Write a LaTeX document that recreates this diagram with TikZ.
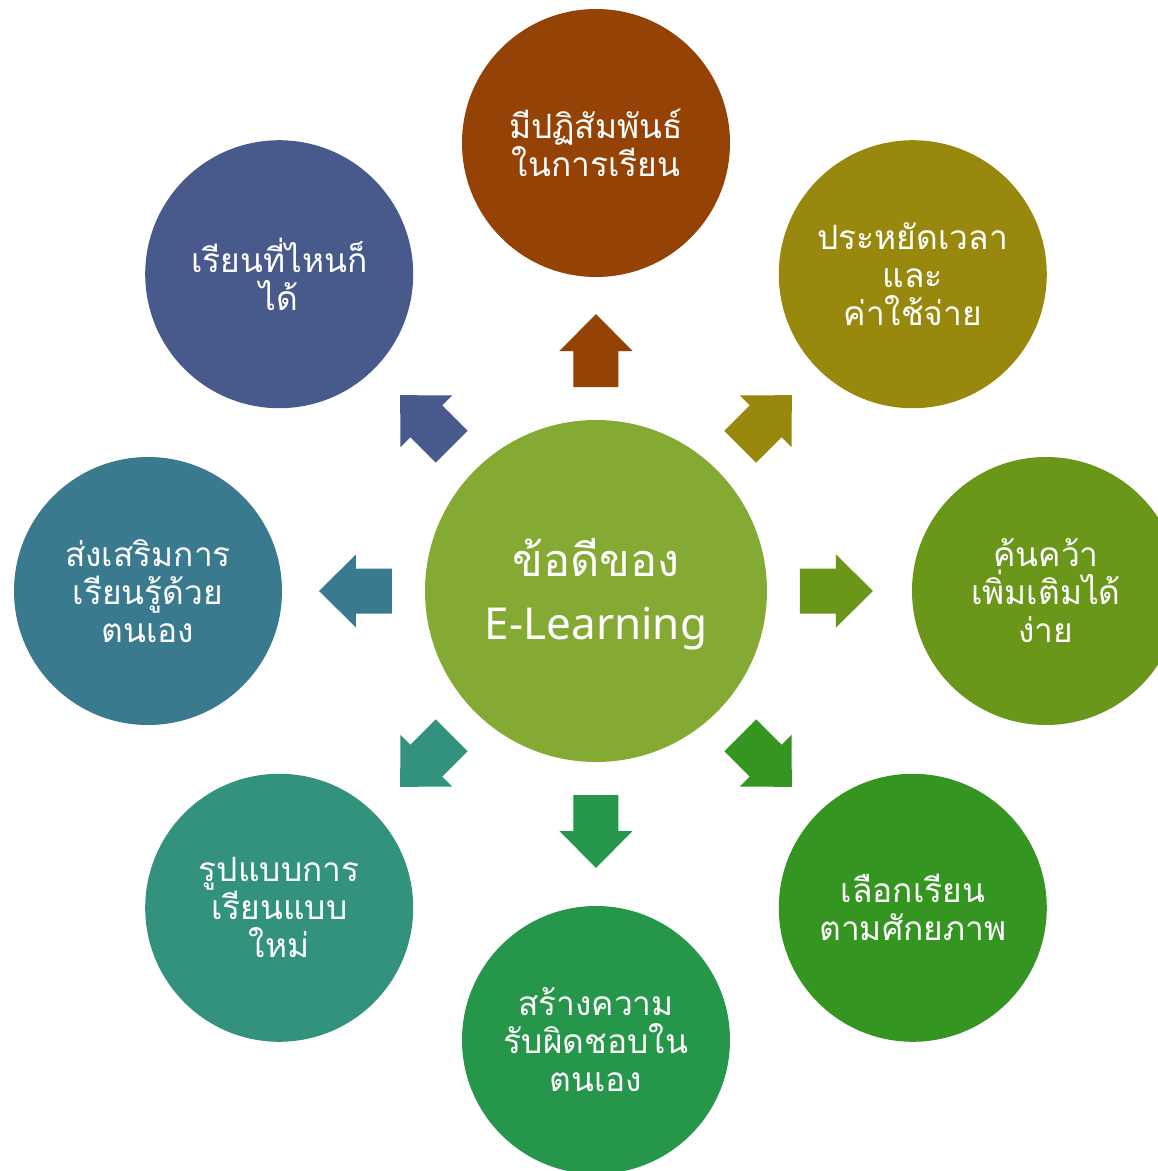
\documentclass[tikz,border=0pt]{standalone}
\usepackage{fontspec}
\newfontfamily\thaifont[Script=Thai]{Loma}
\newfontfamily\latinfont{Noto Sans}
\begin{document}
\begin{tikzpicture}[x=1pt,y=1pt,
  petal/.style={circle,minimum size=268pt,inner sep=0pt,fill=#1,text=white,
    align=center,font=\thaifont\fontsize{33.5}{38}\selectfont},
  hub/.style={circle,minimum size=342pt,inner sep=0pt,fill=#1,text=white,align=center}]
\definecolor{cTop}{RGB}{149,66,6}
\definecolor{cTR}{RGB}{152,137,14}
\definecolor{cR}{RGB}{106,150,26}
\definecolor{cBR}{RGB}{52,149,32}
\definecolor{cB}{RGB}{38,150,74}
\definecolor{cBL}{RGB}{50,146,126}
\definecolor{cL}{RGB}{58,122,142}
\definecolor{cTL}{RGB}{72,90,140}
\definecolor{cHub}{RGB}{132,170,52}
\useasboundingbox (-596,-580) rectangle (562,591);
\clip (-596,-580) rectangle (562,591);

% centre
\node[hub=cHub] (hub) at (0,0) {};
\node[text=white] (hubA) at (0,33) {\thaifont\fontsize{45}{48}\selectfont ข้อดีของ};
\node[text=white] (hubB) at (0,-38) {\latinfont\fontsize{44}{48}\selectfont E-Learning};

% surrounding benefits
\node[petal=cTop] (top) at (90:448) {มีปฏิสัมพันธ์\\ในการเรียน};
\node[petal=cTR] (tr) at (45:448) {ประหยัดเวลา\\และ\\ค่าใช้จ่าย};
\node[petal=cR] (right) at (0:450) {ค้นคว้า\\เพิ่มเติมได้\\ง่าย};
\node[petal=cBR] (br) at (-45:448) {เลือกเรียน\\ตามศักยภาพ};
\node[petal=cB] (bottom) at (-90:449) {สร้างความ\\รับผิดชอบใน\\ตนเอง};
\node[petal=cBL] (bl) at (-135:448) {รูปแบบการ\\เรียนแบบ\\ใหม่};
\node[petal=cL] (left) at (180:448) {ส่งเสริมการ\\เรียนรู้ด้วย\\ตนเอง};
\node[petal=cTL] (tl) at (135:448) {เรียนที่ไหนก็\\ได้};

% block arrows pointing outwards
\foreach \ang/\col in {90/cTop,45/cTR,0/cR,-45/cBR,-90/cB,-135/cBL,180/cL,135/cTL}{
  \fill[\col,rotate=\ang] (204,22.5) -- (240,22.5) -- (240,36.5) -- (277,0)
    -- (240,-36.5) -- (240,-22.5) -- (204,-22.5) -- cycle;
}
\end{tikzpicture}
\end{document}
